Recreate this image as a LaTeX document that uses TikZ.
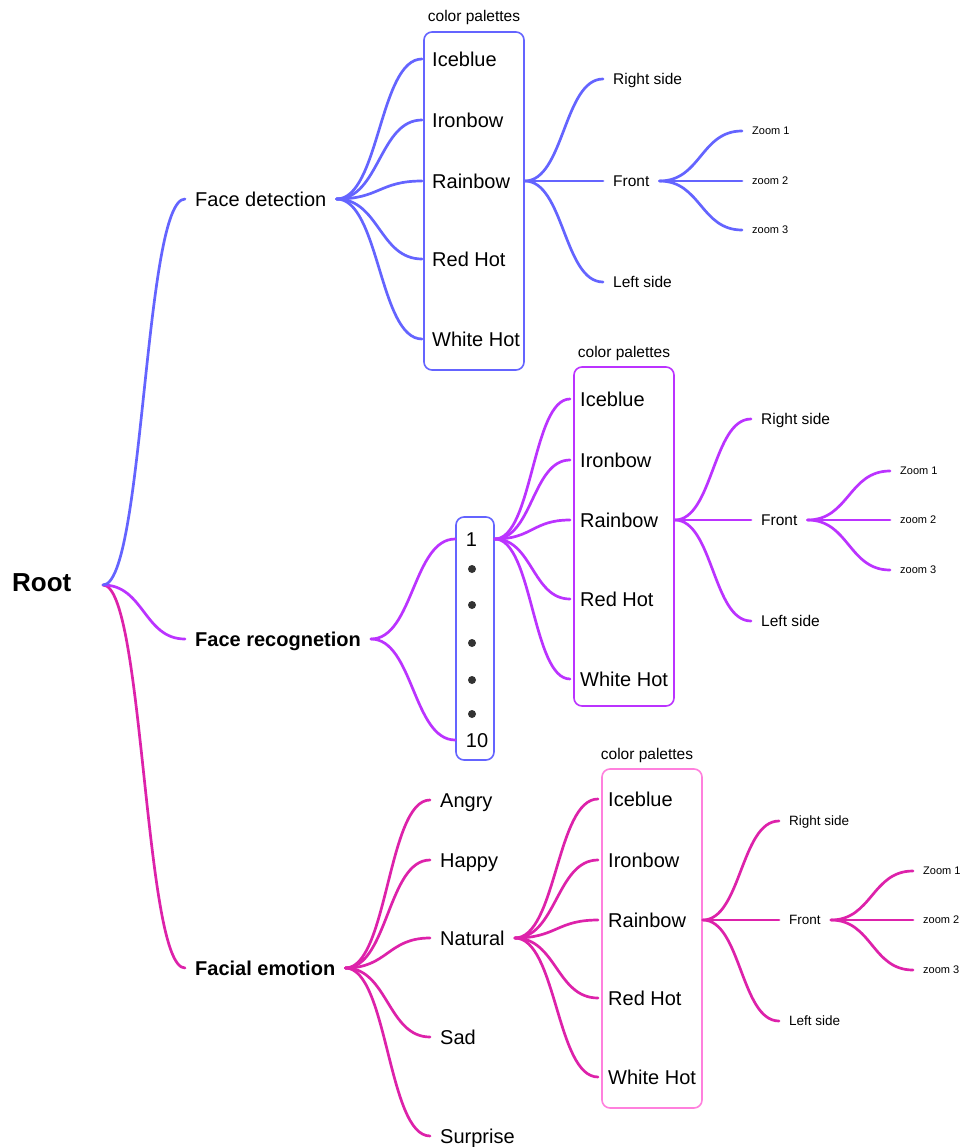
\documentclass[tikz,border=0pt]{standalone}
\usepackage{fontspec}
\setmainfont{Liberation Sans}
\usetikzlibrary{calc}
\definecolor{cblue}{HTML}{6464FF}
\definecolor{cpur}{HTML}{BB33FF}
\definecolor{cmag}{HTML}{DD22AA}
\definecolor{cpink}{HTML}{FF80DD}
\definecolor{ctxt}{HTML}{000000}
\definecolor{cdot}{HTML}{333333}
\begin{document}
\begin{tikzpicture}[x=1pt,y=-1pt,
  cv/.style={to path={.. controls ($(\tikztostart)!0.5!(\tikztotarget|-\tikztostart)$) and ($(\tikztotarget)!0.5!(\tikztostart|-\tikztotarget)$) .. (\tikztotarget)}},
  wire/.style={line width=2.7pt, line cap=round},
  tA/.style={anchor=west, inner xsep=10pt, inner ysep=0pt, text height=14.3pt, text depth=0pt, font=\fontsize{20}{24}\selectfont, text=ctxt},
  tB/.style={tA, text height=11.1pt, font=\fontsize{15.5}{18}\selectfont},
  tC/.style={tA, text height=9.7pt, font=\fontsize{13.5}{16}\selectfont},
  tD/.style={tA, text height=7.9pt, font=\fontsize{11}{13}\selectfont},
  tbold/.style={tA, font=\bfseries\fontsize{20}{24}\selectfont},
  troot/.style={tA, text height=18.6pt, font=\bfseries\fontsize{26}{30}\selectfont},
  pal/.style={draw=#1, line width=1.6pt, rounded corners=8pt, minimum width=100pt, inner sep=0pt},
  caplbl/.style={font=\fontsize{15.5}{18}\selectfont, inner sep=0pt, text=ctxt},
  dotn/.style={circle, fill=cdot, inner sep=0pt, minimum size=8pt}
]
\fill[white] (0,0) rectangle (963,1147);
\useasboundingbox (0,0) rectangle (963,1147);

% Root and level 1
\node[troot] (root) at (2,582) {Root};
\coordinate (rootF) at (103,585);
\node[tA] (fd) at (185,199) {Face detection};
\node[tbold] (fr) at (185,639) {Face recognetion};
\node[tbold] (fe) at (185,968) {Facial emotion};
\draw[wire,cmag] (rootF) to[cv] (fe.west);
\draw[wire,cpur] (rootF) to[cv] (fr.west);
\draw[wire,cblue] (rootF) to[cv] (fd.west);

% Section 1
\node[pal=cblue, minimum height=338pt] (box1) at (474,201) {};
\node[caplbl] (cp1) at (474,17) {color palettes};
\node[tA] (ice1) at (422,59) {Iceblue};
\node[tA] (iro1) at (422,120) {Ironbow};
\node[tA] (rai1) at (422,181) {Rainbow};
\node[tA] (red1) at (422,259) {Red Hot};
\node[tA] (whi1) at (422,339) {White Hot};
\foreach \n in {ice1,iro1,rai1,red1,whi1} \draw[wire,cblue] (fd.east) to[cv] (\n.west);
\coordinate (rai1o) at (box1.east |- rai1.west);
\node[tB] (rs1) at (603,79) {Right side};
\node[tB] (fr1) at (603,181) {Front};
\node[tB] (ls1) at (603,282) {Left side};
\foreach \n in {rs1,fr1,ls1} \draw[wire,cblue] (rai1o) to[cv] (\n.west);
\node[tD] (z11) at (742,131) {Zoom 1};
\node[tD] (z12) at (742,181) {zoom 2};
\node[tD] (z13) at (742,230) {zoom 3};
\foreach \n in {z11,z12,z13} \draw[wire,cblue] (fr1.east) to[cv] (\n.west);

% Section 2
\node[pal=cblue, minimum width=38pt, minimum height=243pt] (nbox) at (475,638.5) {};
\node[tA, anchor=center, inner xsep=0pt] (n1) at (471.5,539) {1};
\node[dotn] (d1) at (472,569) {};
\node[dotn] (d2) at (472,605) {};
\node[dotn] (d3) at (472,643) {};
\node[dotn] (d4) at (472,680) {};
\node[dotn] (d5) at (472,714) {};
\node[tA, anchor=center, inner xsep=0pt] (n10) at (477,740) {10};
\coordinate (nin1) at (nbox.west |- n1.center);
\coordinate (nin10) at (nbox.west |- n10.center);
\coordinate (nout1) at (nbox.east |- n1.center);
\draw[wire,cpur] (fr.east) to[cv] (nin1);
\draw[wire,cpur] (fr.east) to[cv] (nin10);
\node[pal=cpur, minimum height=339pt] (box2) at (624,536.5) {};
\node[caplbl] (cp2) at (624,353) {color palettes};
\node[tA] (ice2) at (570,399) {Iceblue};
\node[tA] (iro2) at (570,460) {Ironbow};
\node[tA] (rai2) at (570,520) {Rainbow};
\node[tA] (red2) at (570,599) {Red Hot};
\node[tA] (whi2) at (570,679) {White Hot};
\foreach \n in {ice2,iro2,rai2,red2,whi2} \draw[wire,cpur] (nout1) to[cv] (\n.west);
\coordinate (rai2o) at (box2.east |- rai2.west);
\node[tB] (rs2) at (751,419) {Right side};
\node[tB] (fr2) at (751,520) {Front};
\node[tB] (ls2) at (751,621) {Left side};
\foreach \n in {rs2,fr2,ls2} \draw[wire,cpur] (rai2o) to[cv] (\n.west);
\node[tD] (z21) at (890,471) {Zoom 1};
\node[tD] (z22) at (890,520) {zoom 2};
\node[tD] (z23) at (890,570) {zoom 3};
\foreach \n in {z21,z22,z23} \draw[wire,cpur] (fr2.east) to[cv] (\n.west);

% Section 3
\node[tA] (ang) at (430,800) {Angry};
\node[tA] (hap) at (430,860) {Happy};
\node[tA] (nat) at (430,938) {Natural};
\node[tA] (sad) at (430,1037) {Sad};
\node[tA] (sur) at (430,1136) {Surprise};
\foreach \n in {ang,hap,nat,sad,sur} \draw[wire,cmag] (fe.east) to[cv] (\n.west);
\node[pal=cpink, minimum height=339pt] (box3) at (652,938.5) {};
\node[caplbl] (cp3) at (647,755) {color palettes};
\node[tA] (ice3) at (598,799) {Iceblue};
\node[tA] (iro3) at (598,860) {Ironbow};
\node[tA] (rai3) at (598,920) {Rainbow};
\node[tA] (red3) at (598,998) {Red Hot};
\node[tA] (whi3) at (598,1077) {White Hot};
\foreach \n in {ice3,iro3,rai3,red3,whi3} \draw[wire,cmag] (nat.east) to[cv] (\n.west);
\coordinate (rai3o) at (box3.east |- rai3.west);
\node[tC] (rs3) at (779,821) {Right side};
\node[tC] (fr3) at (779,920) {Front};
\node[tC] (ls3) at (779,1021) {Left side};
\foreach \n in {rs3,fr3,ls3} \draw[wire,cmag] (rai3o) to[cv] (\n.west);
\node[tD] (z31) at (913,871) {Zoom 1};
\node[tD] (z32) at (913,920) {zoom 2};
\node[tD] (z33) at (913,970) {zoom 3};
\foreach \n in {z31,z32,z33} \draw[wire,cmag] (fr3.east) to[cv] (\n.west);
\end{tikzpicture}
\end{document}
